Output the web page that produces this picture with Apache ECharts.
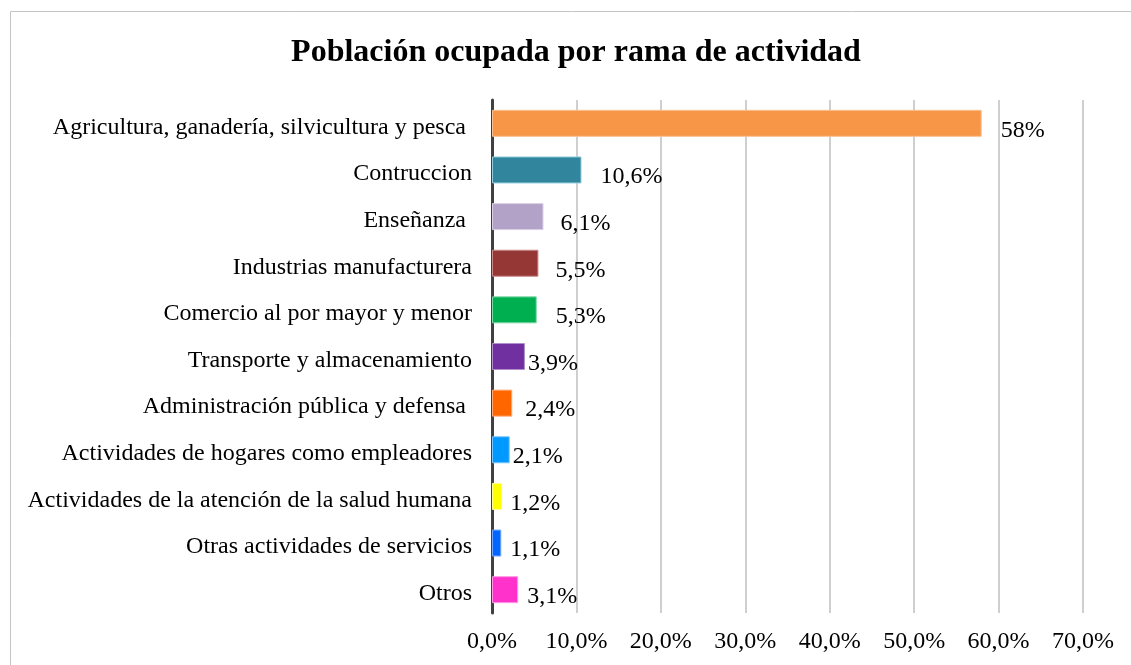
<!DOCTYPE html>
<html>
<head>
<meta charset="utf-8">
<script src="https://cdn.jsdelivr.net/npm/echarts@6/dist/echarts.min.js"></script>
<style>
    html, body { margin: 0; padding: 0; background: #fff; }
    #chart { width: 1131px; height: 665px; }
</style>
</head>
<body>
<div id="chart"></div>
<script>
// datos del grafico
var categorias = [
    'Agricultura, ganadería, silvicultura y pesca ',
    'Contruccion',
    'Enseñanza ',
    'Industrias manufacturera',
    'Comercio al por mayor y menor',
    'Transporte y almacenamiento',
    'Administración pública y defensa ',
    'Actividades de hogares como empleadores',
    'Actividades de la atención de la salud humana',
    'Otras actividades de servicios',
    'Otros'
];
var valores = [58, 10.6, 6.1, 5.5, 5.3, 3.9, 2.4, 2.1, 1.2, 1.1, 3.1];
var etiquetas = ['58%', '10,6%', '6,1%', '5,5%', '5,3%', '3,9%', '2,4%', '2,1%', '1,2%', '1,1%', '3,1%'];
var ticks = [0, 10, 20, 30, 40, 50, 60, 70];

// estilo
var colores = ['#F79646', '#31859C', '#B3A2C7', '#953735', '#00B050', '#7030A0',
               '#FF6600', '#0099FF', '#FFFF00', '#0066FF', '#FF33CC'];
var bordes = ['#FAC090', '#93CDDD', '#D9D0E6', '#C98B8A', '#7FD8A8', '#B08FCB',
              '#FFAA77', '#77C6FF', '#FFFF99', '#77AAFF', '#FF99E6'];
var distLabel = [19, 19, 17, 17, 19, 3, 13, 3, 8, 9, 9];

var fuente = '"Liberation Serif", "Times New Roman", serif';

var datos = valores.map(function (v, i) {
    return {
        value: v,
        itemStyle: { color: colores[i], borderColor: bordes[i], borderWidth: 1 },
        label: { distance: distLabel[i], formatter: etiquetas[i] }
    };
});

var option = {
    animation: false,
    title: {
        text: 'Población ocupada por rama de actividad',
        left: 571,
        textAlign: 'center',
        top: 32,
        textStyle: { fontFamily: fuente, fontSize: 32, fontWeight: 'bold', color: '#000' }
    },
    graphic: [{
        type: 'rect',
        shape: { x: 10.5, y: 11.5, width: 1300, height: 800 },
        style: { fill: 'none', stroke: '#c4c4c4', lineWidth: 1 },
        z: -1
    }],
    grid: { left: 492, right: 48, top: 100, bottom: 52 },
    xAxis: {
        type: 'value',
        min: 0,
        max: 70,
        interval: 10,
        axisLine: { show: false },
        axisTick: { show: false },
        splitLine: { lineStyle: { color: '#cfcfcf', width: 2 } },
        axisLabel: {
            margin: 17,
            fontFamily: fuente, fontSize: 24, color: '#000',
            formatter: function (v) { return v.toFixed(1).replace('.', ',') + '%'; }
        }
    },
    yAxis: {
        type: 'category',
        data: categorias,
        inverse: true,
        axisLine: { lineStyle: { color: '#404040', width: 3 } },
        axisTick: { show: false },
        axisLabel: {
            margin: 20,
            formatter: function (v) { return '{a|' + v + '}'; },
            rich: {
                a: { fontFamily: fuente, fontSize: 24, color: '#000', padding: [8, 0, 0, 0] }
            }
        }
    },
    series: [{
        type: 'bar',
        data: datos,
        barWidth: 27,
        label: {
            show: true,
            position: 'right',
            offset: [0, 7],
            fontFamily: fuente, fontSize: 24, color: '#000'
        }
    }]
};

var myChart = echarts.init(document.getElementById('chart'));
myChart.setOption(option);
</script>
</body>
</html>
